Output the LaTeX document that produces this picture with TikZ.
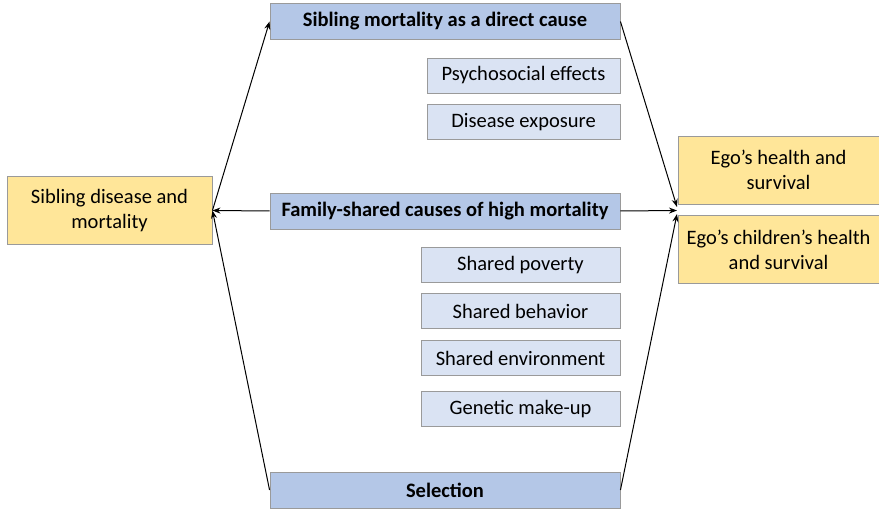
\documentclass[tikz,border=0pt]{standalone}
\usepackage{fontspec}
\setmainfont{Carlito}
\usetikzlibrary{arrows.meta}

\definecolor{headblue}{HTML}{B4C7E7}
\definecolor{subblue}{HTML}{DAE3F3}
\definecolor{outyellow}{HTML}{FFE699}
\definecolor{boxline}{HTML}{9A9A9A}

\tikzset{
    headbox/.style={draw=boxline, fill=headblue, line width=0.9pt, inner sep=0pt,
        minimum width=350pt, minimum height=36pt, font=\fontsize{20.5}{25}\selectfont\bfseries},
    subbox/.style={draw=boxline, fill=subblue, line width=0.9pt, inner sep=0pt,
        minimum width=#1, minimum height=35pt, font=\fontsize{20.5}{25}\selectfont},
    yellowbox/.style={draw=boxline, fill=outyellow, line width=0.9pt, inner sep=0pt,
        minimum width=#1, minimum height=68pt, align=center, font=\fontsize{20.5}{25}\selectfont},
    arr/.style={-{Stealth[length=8pt,width=6pt]}, line width=1pt}
}

\begin{document}
\begin{tikzpicture}[x=1pt, y=-1pt]
        \useasboundingbox (0, 0) rectangle (879, 510);
        % middle column
        \node[headbox] (direct) at (445, 21.5) {Sibling mortality as a direct cause};
        \node[subbox=193pt] (psycho) at (523.5, 75.5) {Psychosocial effects};
        \node[subbox=193pt] (exposure) at (523.5, 122) {Disease exposure};
        \node[headbox] (family) at (445, 211) {Family-shared causes of high mortality};
        \node[subbox=199pt] (poverty) at (520.5, 265) {Shared poverty};
        \node[subbox=199pt] (behavior) at (520.5, 311) {Shared behavior};
        \node[subbox=199pt] (environment) at (520.5, 358) {Shared environment};
        \node[subbox=199pt] (genetic) at (520.5, 409) {Genetic make-up};
        \node[headbox] (selection) at (445, 490) {Selection};
        % outer boxes
        \node[yellowbox=205pt] (sibling) at (109.5, 210.5) {Sibling disease and\\mortality};
        \node[yellowbox=201pt] (ego) at (778.5, 170) {Ego’s health and\\survival};
        \node[yellowbox=201pt] (children) at (778.5, 249.5) {Ego’s children’s health\\and survival};
        \coordinate (egoA) at (677, 207);
        \coordinate (egoB) at (677, 210.5);
        \coordinate (egoC) at (677, 214);
        % arrows
        \draw[arr] (sibling.east) -- (direct.west);
        \draw[arr] (family.west) -- (sibling.east);
        \draw[arr] (selection.west) -- (sibling.east);
        \draw[arr] (direct.east) -- (egoA);
        \draw[arr] (family.east) -- (egoB);
        \draw[arr] (selection.east) -- (egoC);
    \end{tikzpicture}
\end{document}
